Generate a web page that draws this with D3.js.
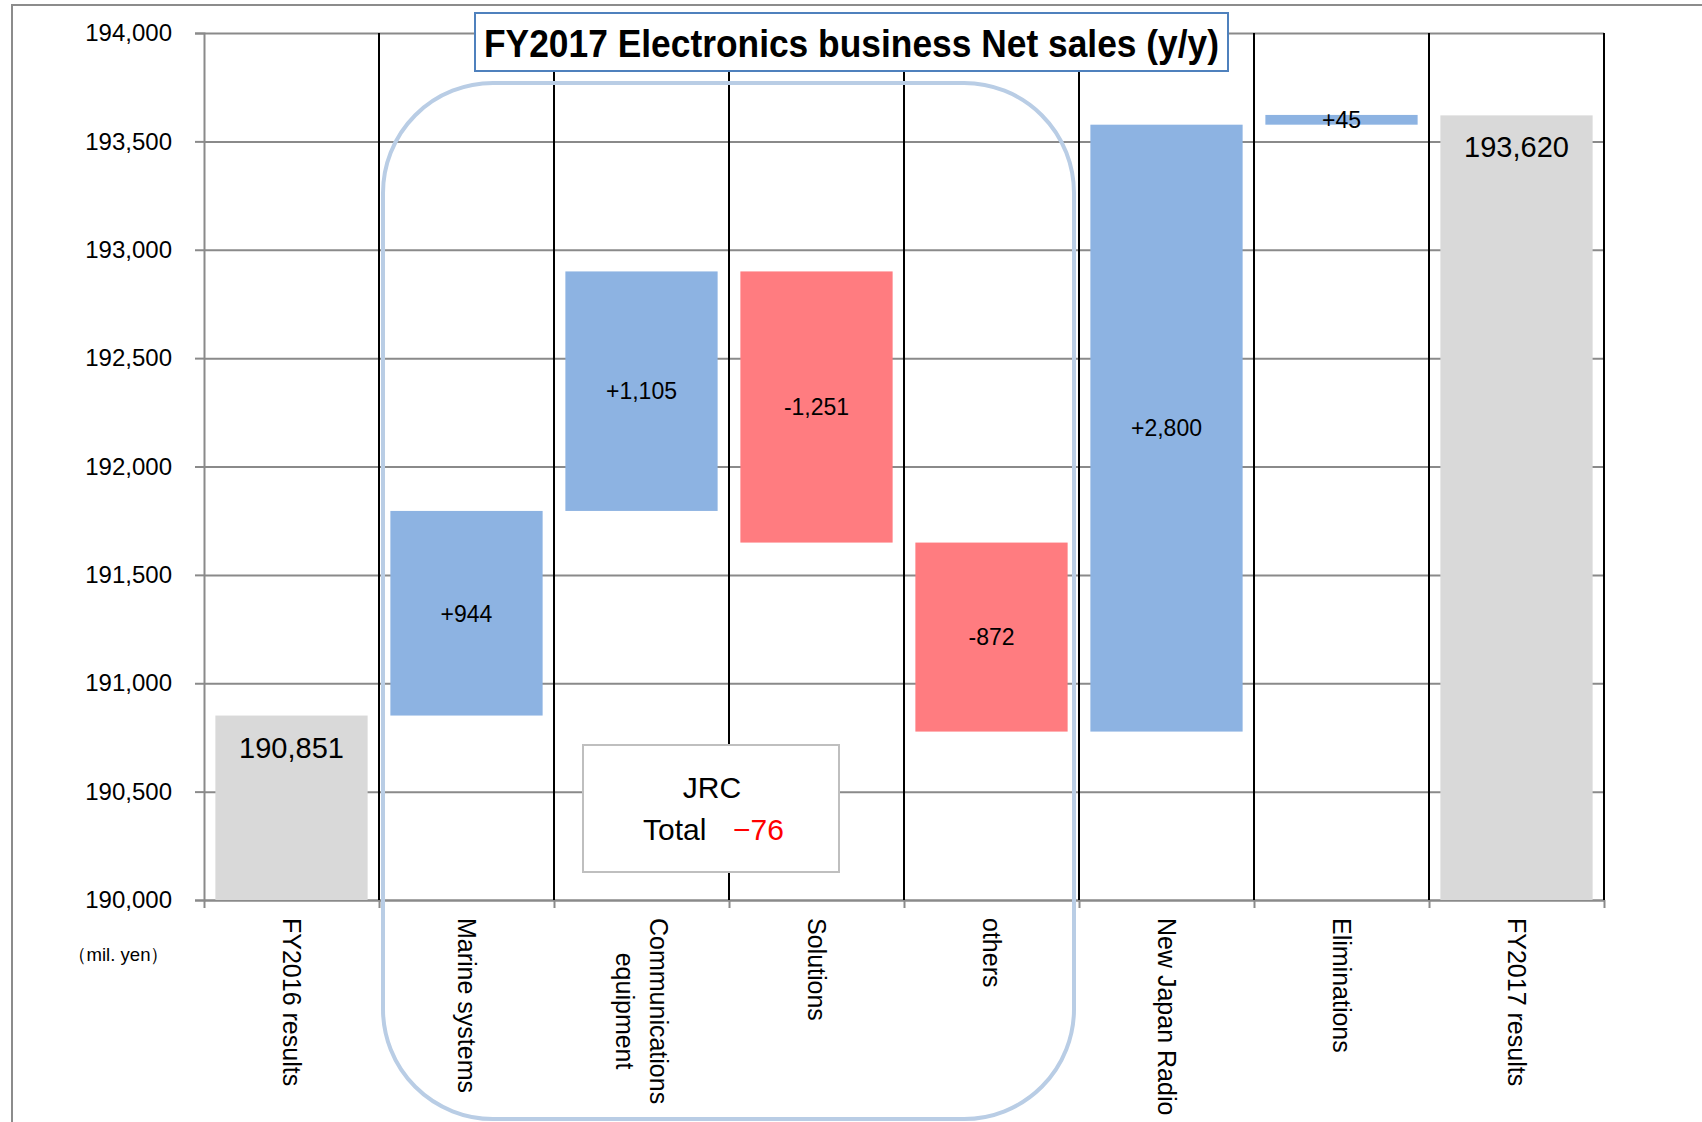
<!DOCTYPE html>
<html>
<head>
<meta charset="utf-8">
<script src="https://cdn.jsdelivr.net/npm/d3@7"></script>
<style>
  body { margin: 0; background: #fff; }
  svg { display: block; font-family: "Liberation Sans", Arial, sans-serif; }
</style>
</head>
<body>
<svg id="chart" width="1702" height="1122"></svg>
<script>
// chart data
const categories = ["FY2016 results", "Marine systems", "Communications equipment", "Solutions", "others", "New Japan Radio", "Eliminations", "FY2017 results"];
const categoryLines = [["FY2016 results"], ["Marine systems"], ["Communications", "equipment"], ["Solutions"], ["others"], ["New Japan Radio"], ["Eliminations"], ["FY2017 results"]];
const values = [190851, 944, 1105, -1251, -872, 2800, 45, 193620];
const barTypes = ["total", "delta", "delta", "delta", "delta", "delta", "delta", "total"];
const valueLabels = ["190,851", "+944", "+1,105", "-1,251", "-872", "+2,800", "+45", "193,620"];
const yTicks = [190000, 190500, 191000, 191500, 192000, 192500, 193000, 193500, 194000];
const titleText = "FY2017 Electronics business Net sales (y/y)";
const unitText = "（mil. yen）";
const groupName = "JRC";
const groupTotalLabel = "Total";
const groupTotalValue = "−76";

const svg = d3.select("#chart");

const plotLeft = 204, plotRight = 1604, plotTop = 33, plotBottom = 900;

const x = d3.scaleBand()
  .domain(categories)
  .range([plotLeft, plotRight])
  .paddingInner(0.13)
  .paddingOuter(0.065);

const y = d3.scaleLinear()
  .domain([190000, 194000])
  .range([plotBottom, plotTop]);

// waterfall start / end for each bar
let running = 0;
const bars = categories.map((name, i) => {
  let start, end;
  if (barTypes[i] === "total") {
    start = y.domain()[0];
    end = values[i];
    running = values[i];
  } else {
    start = running;
    end = running + values[i];
    running = end;
  }
  return { name, start, end, type: barTypes[i], label: valueLabels[i], value: values[i] };
});

const boundary = i => x.range()[0] + i * x.step();

// outer chart border (only top/left visible)
svg.append("rect")
  .attr("x", 12).attr("y", 5)
  .attr("width", 1720).attr("height", 1140)
  .attr("fill", "none")
  .attr("stroke", "#8c8c8c")
  .attr("stroke-width", 2);

// gridlines
svg.append("g")
  .attr("transform", `translate(${plotLeft},0)`)
  .call(d3.axisLeft(y).tickValues(yTicks).tickSize(-(plotRight - plotLeft)).tickFormat(""))
  .call(g => g.select(".domain").remove())
  .call(g => g.selectAll("line").attr("stroke", "#8a8a8a").attr("stroke-width", 2));

// y axis with labels
svg.append("g")
  .attr("transform", `translate(${plotLeft},0)`)
  .call(d3.axisLeft(y).tickValues(yTicks).tickSize(9).tickPadding(23).tickFormat(d3.format(",")))
  .call(g => g.select(".domain").attr("stroke", "#8a8a8a").attr("stroke-width", 2))
  .call(g => g.selectAll("line").attr("stroke", "#8a8a8a").attr("stroke-width", 2))
  .call(g => g.selectAll("text").attr("font-size", 24).attr("fill", "#000")
    .attr("font-family", "'Liberation Sans', Arial, sans-serif"));

// x axis line and ticks at category boundaries
const bScale = d3.scaleLinear().domain([0, categories.length]).range([boundary(0), boundary(categories.length)]);
svg.append("g")
  .attr("transform", `translate(0,${plotBottom})`)
  .call(d3.axisBottom(bScale).tickValues(d3.range(categories.length + 1)).tickSize(8).tickSizeOuter(0).tickFormat(""))
  .call(g => g.select(".domain").attr("stroke", "#8a8a8a").attr("stroke-width", 2))
  .call(g => g.selectAll("line").attr("stroke", "#8a8a8a").attr("stroke-width", 2));

// black separators between categories
svg.append("g")
  .selectAll("line")
  .data(d3.range(1, categories.length + 1))
  .join("line")
  .attr("x1", d => boundary(d)).attr("x2", d => boundary(d))
  .attr("y1", plotTop).attr("y2", plotBottom)
  .attr("stroke", "#000")
  .attr("stroke-width", 2);

// bars
const color = d => d.type === "total" ? "#d9d9d9" : (d.value >= 0 ? "#8db3e2" : "#ff7c80");
svg.append("g")
  .selectAll("rect")
  .data(bars)
  .join("rect")
  .attr("x", d => x(d.name))
  .attr("width", x.bandwidth())
  .attr("y", d => y(Math.max(d.start, d.end)))
  .attr("height", d => Math.abs(y(d.start) - y(d.end)))
  .attr("fill", color);

// bar labels
svg.append("g")
  .selectAll("text")
  .data(bars)
  .join("text")
  .attr("x", d => x(d.name) + x.bandwidth() / 2)
  .attr("y", d => d.type === "total"
    ? y(d.end) + 42
    : (y(d.start) + y(d.end)) / 2)
  .attr("dy", d => d.type === "total" ? 0 : "0.36em")
  .attr("text-anchor", "middle")
  .attr("font-size", d => d.type === "total" ? 29 : 23)
  .attr("fill", "#000")
  .text(d => d.label);

// category labels, rotated, reading top to bottom
const labelTop = 918, lineGap = 34;
categories.forEach((c, i) => {
  const cx = x(c) + x.bandwidth() / 2;
  const g = svg.append("g").attr("transform", `translate(${cx},${labelTop}) rotate(90)`);
  const lines = categoryLines[i];
  const texts = lines.map((t, j) => g.append("text")
    .attr("y", (j - (lines.length - 1) / 2) * lineGap)
    .attr("dy", "0.36em")
    .attr("font-size", 25)
    .attr("fill", "#000")
    .text(t));
  const lens = texts.map(t => t.node().getComputedTextLength());
  const maxLen = d3.max(lens);
  texts.forEach((t, j) => t.attr("x", (maxLen - lens[j]) / 2));
});

// unit note
svg.append("text")
  .attr("x", 68).attr("y", 961)
  .attr("font-size", 19)
  .attr("textLength", 101)
  .attr("lengthAdjust", "spacingAndGlyphs")
  .attr("fill", "#000")
  .text(unitText);

// JRC grouping outline
svg.append("rect")
  .attr("x", 383).attr("y", 83)
  .attr("width", 691).attr("height", 1036)
  .attr("rx", 110).attr("ry", 110)
  .attr("fill", "none")
  .attr("stroke", "#b9cde5")
  .attr("stroke-width", 4);

// JRC total box
svg.append("rect")
  .attr("x", 583).attr("y", 745)
  .attr("width", 256).attr("height", 127)
  .attr("fill", "#fff")
  .attr("stroke", "#bfbfbf")
  .attr("stroke-width", 2);
svg.append("text")
  .attr("x", 712).attr("y", 798)
  .attr("text-anchor", "middle")
  .attr("font-size", 30)
  .text(groupName);
const tot = svg.append("text")
  .attr("x", 643).attr("y", 840)
  .attr("font-size", 30);
tot.append("tspan").text(groupTotalLabel);
tot.append("tspan").attr("x", 733).attr("fill", "#ff0000").text(groupTotalValue);

// title box
svg.append("rect")
  .attr("x", 475).attr("y", 13)
  .attr("width", 753).attr("height", 58)
  .attr("fill", "#fff")
  .attr("stroke", "#4f81bd")
  .attr("stroke-width", 2);
svg.append("text")
  .attr("x", 851.5).attr("y", 57)
  .attr("text-anchor", "middle")
  .attr("font-size", 39)
  .attr("font-weight", "bold")
  .attr("textLength", 735)
  .attr("lengthAdjust", "spacingAndGlyphs")
  .text(titleText);
</script>
</body>
</html>
